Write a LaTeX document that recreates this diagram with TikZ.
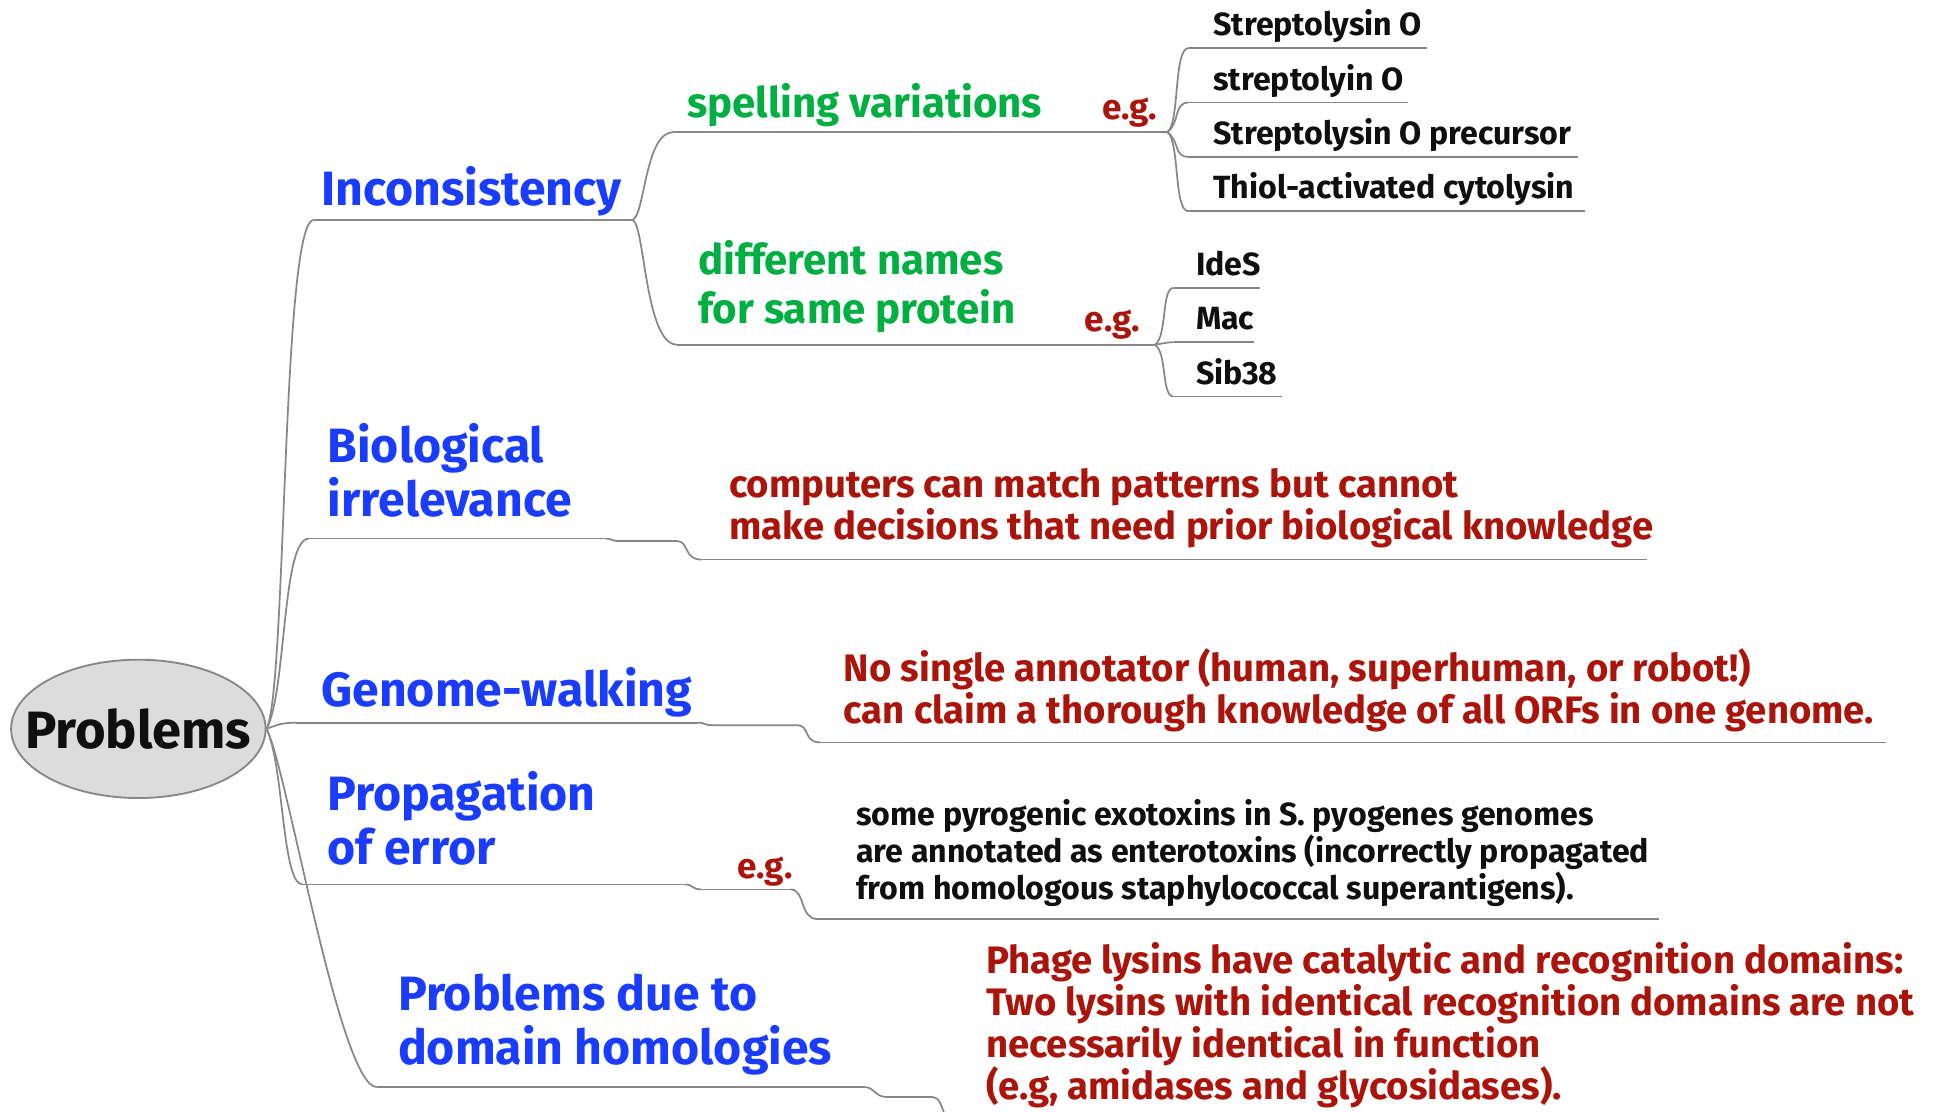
\documentclass[tikz,border=0pt]{standalone}
\usepackage{fontspec}
\usetikzlibrary{shapes.geometric}
\setmainfont{Fira Sans}
\definecolor{cblue}{RGB}{25,60,255}
\definecolor{cgreen}{RGB}{0,175,65}
\definecolor{cred}{RGB}{170,20,10}
\definecolor{cblack}{RGB}{15,15,15}
\definecolor{lgray}{RGB}{135,135,135}
\definecolor{egg}{RGB}{220,220,220}
\tikzset{
  txt/.style={anchor=base west, inner sep=0pt, align=left},
  bluelbl/.style={txt, text=cblue, font=\fontsize{39}{44}\selectfont\bfseries},
  greenlbl/.style={txt, text=cgreen, font=\fontsize{34}{40}\selectfont\bfseries},
  redlbl/.style={txt, text=cred, font=\fontsize{31}{34}\selectfont\bfseries},
  eglbl/.style={txt, text=cred, font=\fontsize{28.5}{34}\selectfont\bfseries},
  itemlbl/.style={txt, text=cblack, font=\fontsize{26}{30}\selectfont\bfseries},
  smalllbl/.style={txt, text=cblack, font=\fontsize{26}{30}\selectfont\bfseries},
  link/.style={draw=lgray, line width=1.4pt},
}
\begin{document}
\begin{tikzpicture}[x=1pt,y=-1pt]
\useasboundingbox (0,0) rectangle (1568,900);
\clip (0,0) rectangle (1568,900);
\fill[white] (0,0) rectangle (1568,900);

% root
\node[ellipse, draw=lgray, line width=1.5pt, fill=egg, minimum width=206pt, minimum height=112pt, inner sep=0pt,
      text=cblack, font=\fontsize{42.5}{48}\selectfont\bfseries] (prob) at (112,590) {\makebox[0pt]{Problems}};

% level 1 labels (anchor = baseline of last line)
\node[bluelbl] (inc) at (260,166) {Inconsistency};
\node[bluelbl] (bio) at (265,418) {Biological\\irrelevance};
\node[bluelbl] (gen) at (260,572) {Genome-walking};
\node[bluelbl] (pro) at (265,700) {Propagation\\of error};
\node[bluelbl] (dom) at (322,862) {Problems due to\\domain homologies};

% level 2
\node[greenlbl] (sp) at (556,95) {spelling variations};
\node[greenlbl] (dn) at (565,262) {different names\\for same protein};
\node[eglbl] (eg1) at (892,97) {e.g.};
\node[eglbl] (eg2) at (878,268) {e.g.};
\node[eglbl] (eg3) at (597,711) {e.g.};

\node[itemlbl] (s1) at (982,29) {Streptolysin O};
\node[itemlbl] (s2) at (982,73) {streptolyin O};
\node[itemlbl] (s3) at (982,117) {Streptolysin O precursor};
\node[itemlbl] (s4) at (982,161) {Thiol-activated cytolysin};
\node[itemlbl] (i1) at (968,223) {IdeS};
\node[itemlbl] (i2) at (968,267) {Mac};
\node[itemlbl] (i3) at (968,311) {Sib38};

\node[redlbl] (comp) at (590,437) {computers can match patterns but cannot\\make decisions that need prior biological knowledge};
\node[redlbl] (nosi) at (683,586) {No single annotator (human, superhuman, or robot!)\\can claim a thorough knowledge of all ORFs in one genome.};
\node[smalllbl] (pyro) at (693,728) {some pyrogenic exotoxins in S. pyogenes genomes\\are annotated as enterotoxins (incorrectly propagated\\from homologous staphylococcal superantigens).};
\node[redlbl] (phage) at (798,890) {Phage lysins have catalytic and recognition domains:\\Two lysins with identical recognition domains are not\\necessarily identical in function\\(e.g, amidases and glycosidases).};

% underline coordinates
\coordinate (hub) at (prob.east);
\coordinate (incL) at (254,178); \coordinate (incR) at (512,178);
\coordinate (bioL) at (250,436); \coordinate (bioR) at (490,436);
\coordinate (genL) at (240,585); \coordinate (genR) at (565,585);
\coordinate (proL) at (245,716); \coordinate (proR) at (555,716);
\coordinate (domL) at (305,880); \coordinate (domR) at (700,880);

\coordinate (spL) at (545,107); \coordinate (spR) at (848,107);
\coordinate (eg1L) at (850,107); \coordinate (eg1R) at (945,107);
\coordinate (dnL) at (548,279); \coordinate (dnR) at (828,279);
\coordinate (eg2L) at (830,279); \coordinate (eg2R) at (935,279);

\coordinate (s1L) at (962,39);  \coordinate (s1R) at (1155,39);
\coordinate (s2L) at (962,83);  \coordinate (s2R) at (1140,83);
\coordinate (s3L) at (962,127); \coordinate (s3R) at (1277,127);
\coordinate (s4L) at (962,171); \coordinate (s4R) at (1283,171);
\coordinate (i1L) at (950,233); \coordinate (i1R) at (1020,233);
\coordinate (i2L) at (950,277); \coordinate (i2R) at (1015,277);
\coordinate (i3L) at (950,321); \coordinate (i3R) at (1038,321);

\coordinate (compL) at (568,453); \coordinate (compR) at (1333,453);
\coordinate (nosiL) at (664,601); \coordinate (nosiR) at (1527,601);
\coordinate (eg3L) at (568,720); \coordinate (eg3R) at (640,720);
\coordinate (pyroL) at (662,744); \coordinate (pyroR) at (1343,744);
\coordinate (phL) at (780,918); \coordinate (phR) at (1560,918);

% underlines
\foreach \n in {inc,bio,gen,pro,dom,sp,eg1,dn,eg2,s1,s2,s3,s4,i1,i2,i3,comp,nosi,eg3,pyro}
  \draw[link] (\n L) -- (\n R);

% root connectors
\draw[link] (hub) .. controls (232,560) and (228,178) .. (incL);
\draw[link] (hub) .. controls (232,560) and (228,436) .. (bioL);
\draw[link] (hub) .. controls (226,586) and (230,585) .. (genL);
\draw[link] (hub) .. controls (230,620) and (228,716) .. (proL);
\draw[link] (hub) .. controls (232,620) and (275,880) .. (domL);

% inconsistency children
\draw[link] (incR) .. controls (522,175) and (522,107) .. (spL);
\draw[link] (incR) .. controls (522,181) and (522,279) .. (dnL);
\draw[link] (spR) -- (eg1L);
\draw[link] (dnR) -- (eg2L);
\draw[link] (eg1R) .. controls (955,100) and (950,39) .. (s1L);
\draw[link] (eg1R) .. controls (955,100) and (950,83) .. (s2L);
\draw[link] (eg1R) .. controls (955,114) and (950,127) .. (s3L);
\draw[link] (eg1R) .. controls (955,114) and (950,171) .. (s4L);
\draw[link] (eg2R) .. controls (945,272) and (940,233) .. (i1L);
\draw[link] (eg2R) .. controls (942,278) and (945,277) .. (i2L);
\draw[link] (eg2R) .. controls (945,286) and (940,321) .. (i3L);

% step connectors
\draw[link] (bioR) .. controls (496,436) and (494,438) .. (502,438) -- (548,438) .. controls (558,438) and (553,453) .. (compL);
\draw[link] (genR) .. controls (571,585) and (569,587) .. (577,587) -- (645,587) .. controls (656,587) and (650,601) .. (nosiL);
\draw[link] (proR) .. controls (561,716) and (560,720) .. (eg3L);
\draw[link] (eg3R) .. controls (652,720) and (647,744) .. (pyroL);
\draw[link] (domR) .. controls (708,880) and (708,888) .. (718,888) -- (755,888) .. controls (766,888) and (762,918) .. (phL) -- (phR);
\end{tikzpicture}
\end{document}
